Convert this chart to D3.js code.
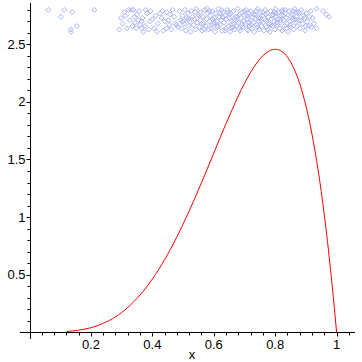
<!DOCTYPE html>
<html>
<head>
<meta charset="utf-8">
<script src="https://cdn.jsdelivr.net/npm/d3@7"></script>
<style>
  body { margin: 0; background: #fff; }
  svg { display: block; }
  text { font-family: "Liberation Sans", Arial, sans-serif; font-size: 13px; fill: #000; }
</style>
</head>
<body>
<svg id="chart" width="362" height="362"></svg>
<script>
// density curve
var curveX = [0.12, 0.14, 0.16, 0.18, 0.20, 0.22, 0.24, 0.26, 0.28, 0.30, 0.32, 0.34, 0.36, 0.38,
    0.40, 0.42, 0.44, 0.46, 0.48, 0.50, 0.52, 0.54, 0.56, 0.58, 0.60, 0.62, 0.64, 0.66, 0.68,
    0.70, 0.72, 0.74, 0.76, 0.78, 0.80, 0.82, 0.84, 0.86, 0.88, 0.90, 0.92, 0.94, 0.96, 0.98, 0.99, 1.00];
var curveY = [0.005, 0.010, 0.017, 0.026, 0.038, 0.055, 0.076, 0.101, 0.133, 0.170, 0.214, 0.265, 0.323, 0.388,
    0.461, 0.541, 0.630, 0.725, 0.828, 0.938, 1.053, 1.173, 1.298, 1.426, 1.555, 1.685, 1.812, 1.935, 2.053,
    2.161, 2.257, 2.339, 2.402, 2.443, 2.458, 2.442, 2.390, 2.297, 2.159, 1.968, 1.719, 1.405, 1.019, 0.553, 0.288, 0];

// sample points (jittered strip near the top)
var sampleX = [0.061, 0.113, 0.102, 0.139, 0.154, 0.135, 0.135, 0.211, 0.293, 0.298, 0.308, 0.322, 0.331, 0.338,
    0.349, 0.354, 0.360, 0.365, 0.348, 0.371, 0.365, 0.382, 0.401, 0.406, 0.425, 0.430, 0.441, 0.446, 0.452,
    0.466, 0.474, 0.479,
    0.303, 0.312, 0.318, 0.327, 0.335, 0.342, 0.357, 0.368, 0.376, 0.388, 0.394, 0.411, 0.418, 0.436, 0.458,
    0.462, 0.471, 0.484, 0.392, 0.415, 0.447, 0.378, 0.344, 0.433, 0.455,
    0.488, 0.492, 0.495, 0.498, 0.503, 0.506, 0.509, 0.512, 0.515, 0.519, 0.521, 0.524, 0.527, 0.531, 0.534,
    0.537, 0.541, 0.543, 0.546, 0.549, 0.553, 0.556, 0.558, 0.562, 0.565, 0.567, 0.571, 0.574, 0.577, 0.580,
    0.583, 0.586, 0.589, 0.592, 0.595, 0.598, 0.601, 0.604, 0.607, 0.610, 0.612, 0.615, 0.618, 0.621, 0.624,
    0.627, 0.630, 0.633, 0.636, 0.639, 0.641, 0.644, 0.647, 0.650, 0.653, 0.656, 0.659, 0.661, 0.664, 0.667,
    0.670, 0.672, 0.675, 0.678, 0.681, 0.683, 0.686, 0.689, 0.692, 0.694, 0.697, 0.700, 0.703, 0.705, 0.708,
    0.711, 0.713, 0.716, 0.719, 0.721, 0.724, 0.727, 0.729, 0.732, 0.735, 0.737, 0.740, 0.743, 0.745, 0.748,
    0.751, 0.753, 0.756, 0.759, 0.761, 0.764, 0.767, 0.769, 0.772, 0.775, 0.777, 0.780, 0.783, 0.785, 0.788,
    0.791, 0.793, 0.796, 0.799, 0.801, 0.804, 0.807, 0.809, 0.812, 0.815, 0.817, 0.820, 0.823, 0.825, 0.828,
    0.831, 0.833, 0.836, 0.839, 0.842, 0.845, 0.848, 0.851, 0.854, 0.857, 0.860, 0.863, 0.866, 0.869, 0.872,
    0.875, 0.878, 0.881, 0.885, 0.889, 0.893, 0.897, 0.901, 0.905, 0.910, 0.916, 0.922, 0.935, 0.956, 0.967,
    0.975, 0.935, 0.912, 0.926, 0.918,
    0.552, 0.569, 0.585, 0.603, 0.619, 0.637, 0.652, 0.668, 0.684, 0.699, 0.714, 0.730, 0.746, 0.760, 0.776,
    0.790, 0.806, 0.821, 0.837, 0.852, 0.868, 0.884, 0.900, 0.560, 0.578, 0.596, 0.613, 0.629, 0.646, 0.662,
    0.677, 0.693, 0.709, 0.723, 0.738, 0.754, 0.770, 0.786, 0.802, 0.818, 0.834, 0.849, 0.865, 0.880, 0.896,
    0.712, 0.742, 0.773, 0.797, 0.827, 0.858, 0.658, 0.625, 0.593, 0.539, 0.518, 0.500];
var sampleY = [2.80, 2.80, 2.74, 2.78, 2.66, 2.63, 2.61, 2.80, 2.63, 2.73, 2.78, 2.80, 2.80, 2.80,
    2.76, 2.71, 2.67, 2.64, 2.64, 2.61, 2.70, 2.77, 2.72, 2.64, 2.77, 2.73, 2.70, 2.64, 2.71,
    2.80, 2.68, 2.67,
    2.68, 2.75, 2.64, 2.71, 2.66, 2.74, 2.79, 2.73, 2.66, 2.63, 2.79, 2.75, 2.68, 2.62, 2.76,
    2.63, 2.74, 2.65, 2.70, 2.61, 2.78, 2.80, 2.69, 2.79, 2.67,
    2.79, 2.71, 2.64, 2.75, 2.68, 2.80, 2.62, 2.73, 2.77, 2.66, 2.70, 2.61, 2.79, 2.74, 2.67,
    2.72, 2.63, 2.81, 2.69, 2.76, 2.65, 2.71, 2.78, 2.62, 2.74, 2.68, 2.80, 2.66, 2.72, 2.77,
    2.63, 2.70, 2.75, 2.64, 2.79, 2.68, 2.73, 2.61, 2.77, 2.70, 2.65, 2.81, 2.74, 2.67, 2.71,
    2.62, 2.78, 2.69, 2.75, 2.64, 2.72, 2.80, 2.66, 2.73, 2.61, 2.77, 2.70, 2.68, 2.79, 2.63,
    2.74, 2.71, 2.66, 2.81, 2.69, 2.76, 2.62, 2.73, 2.78, 2.65, 2.70, 2.75, 2.68, 2.80, 2.63,
    2.72, 2.77, 2.66, 2.71, 2.79, 2.64, 2.74, 2.69, 2.61, 2.76, 2.72, 2.67, 2.81, 2.70, 2.63,
    2.78, 2.73, 2.66, 2.75, 2.69, 2.62, 2.80, 2.71, 2.65, 2.77, 2.74, 2.68, 2.61, 2.79, 2.72,
    2.66, 2.76, 2.70, 2.63, 2.81, 2.74, 2.67, 2.72, 2.78, 2.64, 2.69, 2.75, 2.62, 2.80, 2.71,
    2.66, 2.77, 2.73, 2.68, 2.61, 2.79, 2.70, 2.65, 2.76, 2.72, 2.63, 2.81, 2.69, 2.74, 2.66,
    2.78, 2.71, 2.64, 2.80, 2.68, 2.75, 2.62, 2.77, 2.70, 2.66, 2.79, 2.73, 2.81, 2.79, 2.76,
    2.74, 2.64, 2.74, 2.68, 2.65,
    2.75, 2.63, 2.79, 2.69, 2.77, 2.62, 2.76, 2.72, 2.64, 2.79, 2.69, 2.76, 2.73, 2.78, 2.63,
    2.75, 2.69, 2.79, 2.64, 2.74, 2.78, 2.71, 2.66, 2.68, 2.81, 2.72, 2.66, 2.74, 2.78, 2.65,
    2.74, 2.68, 2.75, 2.67, 2.79, 2.70, 2.76, 2.67, 2.77, 2.71, 2.80, 2.67, 2.72, 2.77, 2.73,
    2.62, 2.65, 2.70, 2.78, 2.75, 2.79, 2.64, 2.80, 2.67, 2.78, 2.72, 2.70];

var xMajor = [0.2, 0.4, 0.6, 0.8, 1];
var yMajor = [0.5, 1, 1.5, 2, 2.5];
var xLabel = 'x';

var svg = d3.select('#chart');

var x = d3.scaleLinear().domain([-0.031, 1.06]).range([20, 355]);
var y = d3.scaleLinear().domain([-0.06, 2.86]).range([339, 3]);

// minor ticks every 0.04 on x, 0.1 on y
var xMinor = d3.range(1, 27).map(function(i) { return +(i * 0.04).toFixed(2); })
    .filter(function(v) { return xMajor.indexOf(v) < 0; });
var yMinor = d3.range(1, 29).map(function(i) { return +(i * 0.1).toFixed(1); })
    .filter(function(v) { return yMajor.indexOf(v) < 0; });

var fmt = function(d) { return d3.format('~g')(d); };

// x axis
var gx = svg.append('g').attr('transform', 'translate(0,' + (Math.round(y(0)) + 0.5) + ')');
gx.append('line').attr('x1', 20).attr('x2', 355).attr('stroke', '#000');
gx.selectAll('line.minor').data(xMinor).enter().append('line')
    .attr('class', 'minor')
    .attr('x1', function(d) { return Math.round(x(d)) + 0.5; })
    .attr('x2', function(d) { return Math.round(x(d)) + 0.5; })
    .attr('y1', 0).attr('y2', 3)
    .attr('stroke', '#000');
gx.selectAll('line.major').data(xMajor).enter().append('line')
    .attr('class', 'major')
    .attr('x1', function(d) { return Math.round(x(d)) + 0.5; })
    .attr('x2', function(d) { return Math.round(x(d)) + 0.5; })
    .attr('y1', 0).attr('y2', 4)
    .attr('stroke', '#000');
gx.selectAll('text').data(xMajor).enter().append('text')
    .attr('x', function(d) { return x(d); })
    .attr('y', 16)
    .attr('text-anchor', 'middle')
    .text(fmt);

// y axis
var gy = svg.append('g').attr('transform', 'translate(' + (Math.round(x(0)) + 0.5) + ',0)');
gy.append('line').attr('y1', 3).attr('y2', 339).attr('stroke', '#000');
gy.selectAll('line.minor').data(yMinor).enter().append('line')
    .attr('class', 'minor')
    .attr('y1', function(d) { return Math.round(y(d)) + 0.5; })
    .attr('y2', function(d) { return Math.round(y(d)) + 0.5; })
    .attr('x1', -3).attr('x2', 0)
    .attr('stroke', '#000');
gy.selectAll('line.major').data(yMajor).enter().append('line')
    .attr('class', 'major')
    .attr('y1', function(d) { return Math.round(y(d)) + 0.5; })
    .attr('y2', function(d) { return Math.round(y(d)) + 0.5; })
    .attr('x1', -4).attr('x2', 0)
    .attr('stroke', '#000');
gy.selectAll('text').data(yMajor).enter().append('text')
    .attr('x', -5)
    .attr('y', function(d) { return y(d) + 4.5; })
    .attr('text-anchor', 'end')
    .text(fmt);

svg.append('text')
    .attr('x', 192).attr('y', 359)
    .attr('text-anchor', 'middle')
    .text(xLabel);

// points
var diamond = 'M0,-2.5L2.5,0L0,2.5L-2.5,0Z';
svg.append('g').selectAll('path').data(sampleX).enter().append('path')
    .attr('d', diamond)
    .attr('transform', function(d, i) { return 'translate(' + x(d) + ',' + y(sampleY[i]) + ')'; })
    .attr('fill', 'none')
    .attr('stroke', '#a9b3f5')
    .attr('stroke-width', 1);

// curve
var line = d3.line()
    .x(function(d) { return x(d); })
    .y(function(d, i) { return y(curveY[i]); })
    .curve(d3.curveMonotoneX);
svg.append('path')
    .datum(curveX)
    .attr('d', line)
    .attr('fill', 'none')
    .attr('stroke', '#ff0000')
    .attr('stroke-width', 1);
</script>
</body>
</html>
